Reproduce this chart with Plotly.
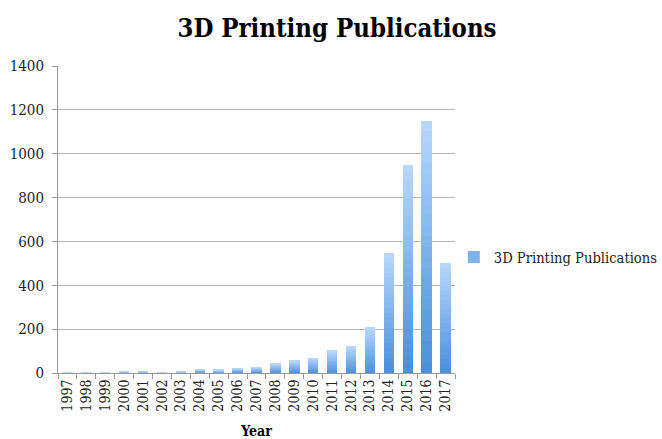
import plotly.graph_objects as go

years = [str(y) for y in range(1997, 2018)]
publications = [4, 4, 4, 8, 8, 4, 7, 17, 14, 22, 27, 44, 57, 68, 101, 122, 209, 545, 950, 1150, 500]
series_name = "3D Printing Publications"
y_ticks = [0, 200, 400, 600, 800, 1000, 1200, 1400]

# vertical gradient per bar: dark blue at the base, pale blue at the top
N_SEG = 24
dark = (74, 144, 220)
light = (182, 214, 251)

def mix(t):
    return "rgb({},{},{})".format(*[round(d + (l - d) * t) for d, l in zip(dark, light)])

fig = go.Figure()
for k in range(N_SEG):
    fig.add_trace(go.Bar(
        x=years,
        y=[v / N_SEG for v in publications],
        marker=dict(color=mix(k / (N_SEG - 1)), line=dict(width=0)),
        name=series_name,
        showlegend=False,
        hoverinfo="skip",
    ))
# legend entry
fig.add_trace(go.Bar(
    x=[years[0]], y=[None],
    marker=dict(color=mix(0.5), line=dict(width=0)),
    name=series_name, showlegend=True,
))

serif = "DejaVu Serif Condensed"
fig.update_layout(
    width=662, height=439,
    margin=dict(l=58, r=207, t=66, b=66, autoexpand=False),
    paper_bgcolor="white", plot_bgcolor="white",
    barmode="stack", bargap=0.45,
    title=dict(text="<b>3D Printing Publications</b>", x=0.509, xanchor="center",
               y=0.937, yanchor="middle",
               font=dict(family=serif, size=25.5, color="black")),
    font=dict(family=serif, size=14, color="#222"),
    legend=dict(x=0.997, xanchor="left", y=0.378, yanchor="middle",
                font=dict(family=serif, size=14.6, color="#222"),
                bgcolor="rgba(0,0,0,0)", itemwidth=30),
    xaxis=dict(
        type="category", tickangle=-90,
        showline=True, linecolor="#999", linewidth=1,
        ticks="outside", tickson="boundaries", ticklen=5, tickcolor="#999",
        tickfont=dict(family=serif, size=14, color="#222"),
        title=dict(text="<b>Year</b>", standoff=17,
                   font=dict(family=serif, size=14, color="black")),
        showgrid=False,
    ),
    yaxis=dict(
        range=[0, 1400], tickvals=y_ticks,
        showline=True, linecolor="#999", linewidth=1,
        ticks="outside", ticklen=5, tickcolor="#999",
        ticklabelstandoff=5,
        showgrid=True, gridcolor="#b5b5b5", gridwidth=1,
        zeroline=False,
        tickfont=dict(family=serif, size=15, color="#222"),
    ),
)

fig.write_html("out.html")
